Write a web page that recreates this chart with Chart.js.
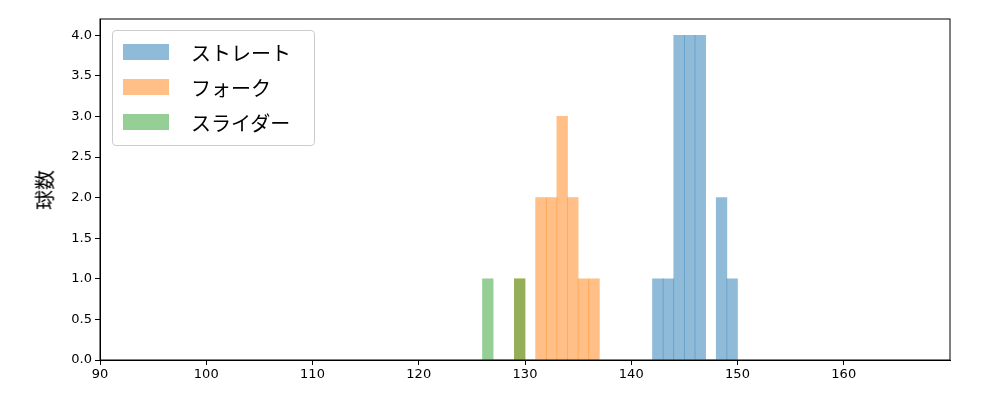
<!DOCTYPE html>
<html><head><meta charset="utf-8">
<script src="https://cdn.jsdelivr.net/npm/chart.js@4"></script>
<style>
body{margin:0;background:#fff;font-family:"DejaVu Sans","Noto Sans CJK JP",sans-serif}
#wrap{position:relative;width:1000px;height:400px}
#legend{position:absolute;left:112px;top:30px;width:201px;height:114px;border:1px solid #ccc;border-radius:4px;background:rgba(255,255,255,0.8);font-family:"Noto Sans CJK JP",sans-serif;font-size:20px}
.it{position:absolute;left:10px;height:20px;display:flex;align-items:center}
.sw{width:46px;height:16px;margin-right:22px}
#ylab{position:absolute;left:44px;top:190px;transform:translate(-50%,-50%) rotate(-90deg);font-family:"Noto Sans CJK JP",sans-serif;font-size:20px}
</style></head><body>
<div id="wrap"><canvas id="c" width="1000" height="400"></canvas>
<div id="ylab">球数</div>
<div id="legend">
<div class="it" style="top:11px"><div class="sw" style="background:rgba(31,119,180,0.5)"></div>ストレート</div>
<div class="it" style="top:46px"><div class="sw" style="background:rgba(255,127,14,0.5)"></div>フォーク</div>
<div class="it" style="top:81px"><div class="sw" style="background:rgba(44,160,44,0.5)"></div>スライダー</div>
</div></div>
<script>
const seriesNames=["ストレート","フォーク","スライダー"];
const straightBins=[142.5,143.5,144.5,145.5,146.5,147.5,148.5,149.5];
const straightCounts=[1,1,4,4,4,0,2,1];
const forkBins=[129.5,130.5,131.5,132.5,133.5,134.5,135.5,136.5];
const forkCounts=[1,0,2,2,3,2,1,1];
const sliderBins=[126.5,127.5,128.5,129.5];
const sliderCounts=[1,0,0,1];
const xTicks=[90,100,110,120,130,140,150,160];
const colors=["rgba(31,119,180,0.5)","rgba(255,127,14,0.5)","rgba(44,160,44,0.5)"];
const mk=(b,c)=>b.map((x,i)=>({x:x,y:c[i]}));
const frame={id:'frame',afterDraw(ch){const a=ch.chartArea,g=ch.ctx;g.save();g.strokeStyle='#000';g.lineWidth=1;g.strokeRect(a.left,a.top,a.right-a.left,a.bottom-a.top);g.restore();}};
new Chart(document.getElementById('c'),{type:'bar',
data:{datasets:[
{label:seriesNames[0],data:mk(straightBins,straightCounts),backgroundColor:colors[0],order:3,borderWidth:0},
{label:seriesNames[1],data:mk(forkBins,forkCounts),backgroundColor:colors[1],order:2,borderWidth:0},
{label:seriesNames[2],data:mk(sliderBins,sliderCounts),backgroundColor:colors[2],order:1,borderWidth:0}]},
options:{responsive:false,animation:false,grouped:false,barPercentage:1,categoryPercentage:1,
layout:{padding:{top:19,right:50,left:0,bottom:0}},
plugins:{legend:{display:false},tooltip:{enabled:false}},
scales:{
x:{type:'linear',min:90,max:170,offset:false,afterBuildTicks:s=>{s.ticks=xTicks.map(v=>({value:v}))},
 grid:{offset:false,drawOnChartArea:false,drawTicks:true,tickLength:5,color:'#000'},border:{color:'#000'},
 ticks:{color:'#000',font:{size:13,family:'DejaVu Sans'},padding:2},afterFit:s=>{s.height=40}},
y:{min:0,max:4.2,afterBuildTicks:s=>{s.ticks=[0,0.5,1,1.5,2,2.5,3,3.5,4].map(v=>({value:v}))},
 grid:{drawOnChartArea:false,drawTicks:true,tickLength:5,color:'#000'},border:{color:'#000'},
 ticks:{color:'#000',font:{size:13,family:'DejaVu Sans'},padding:3,callback:v=>v.toFixed(1)},afterFit:s=>{s.width=100}}}},
plugins:[frame]});
</script></body></html>
